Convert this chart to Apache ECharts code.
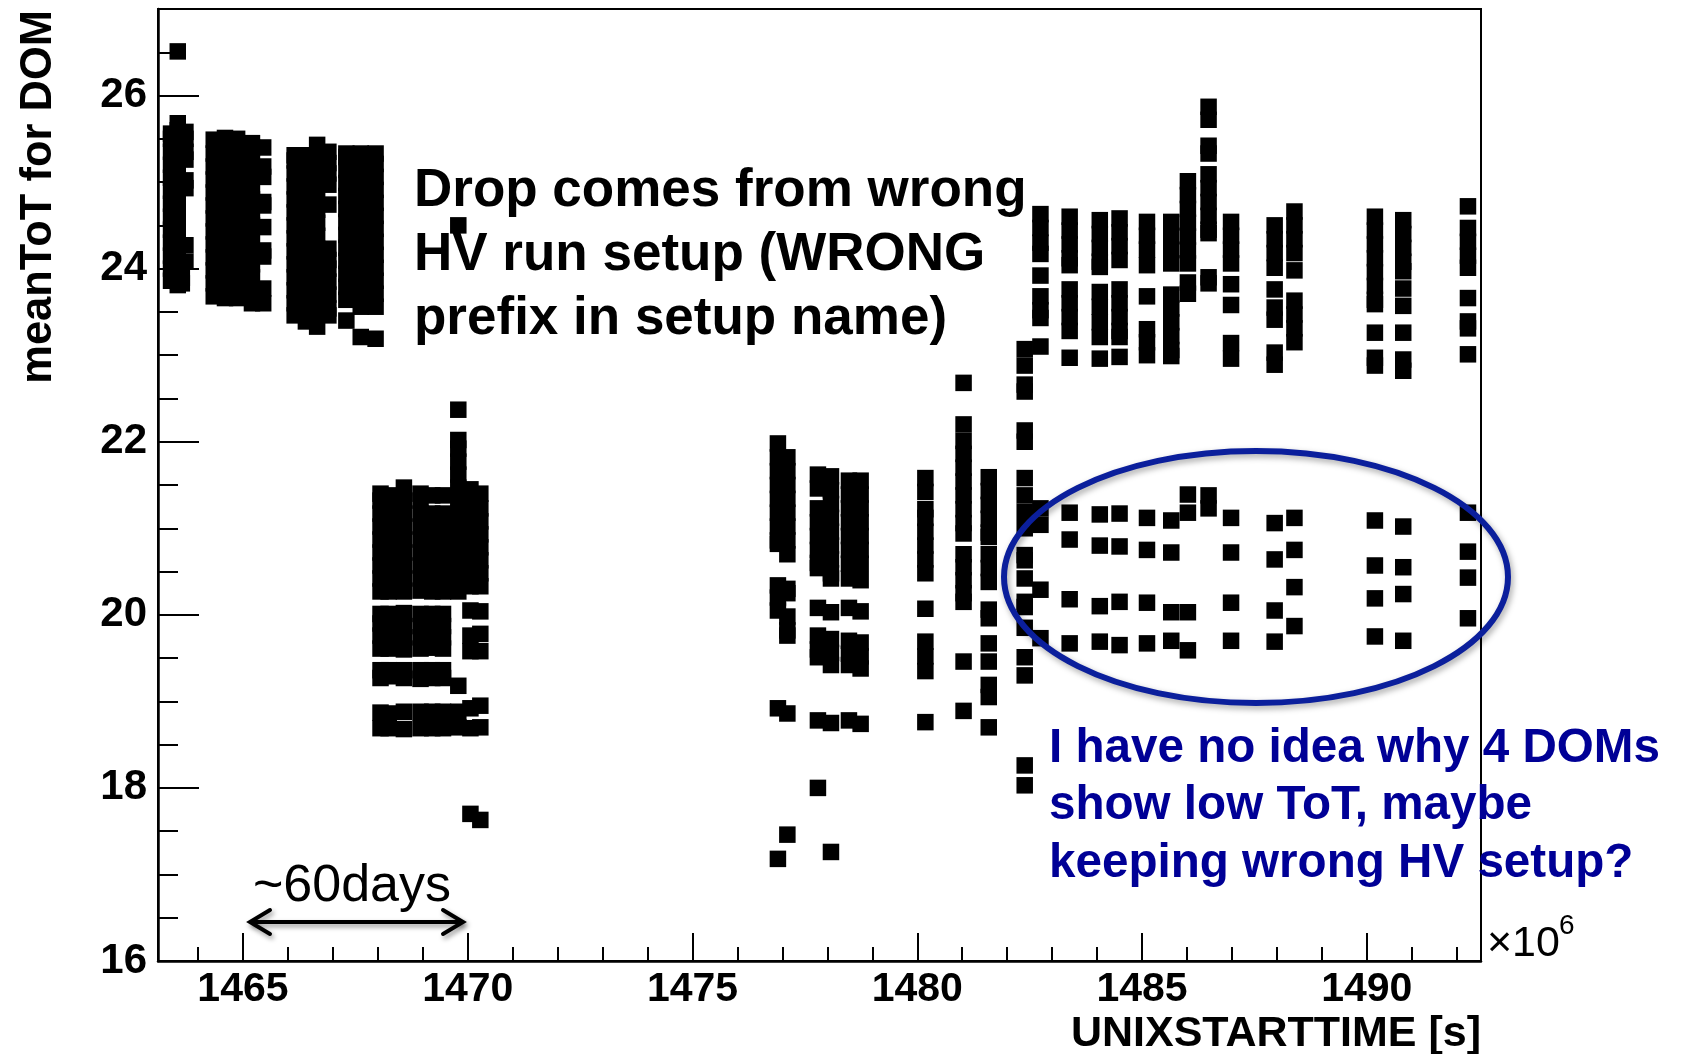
<!DOCTYPE html>
<html>
<head>
<meta charset="utf-8">
<script src="https://cdn.jsdelivr.net/npm/echarts@6/dist/echarts.min.js"></script>
<style>
  html, body { margin: 0; padding: 0; background: #fff; }
  #chart { width: 1683px; height: 1054px; }
</style>
</head>
<body>
<div id="chart"></div>
<script>
// Run start times in units of 1e6 s (UNIXSTARTTIME), one entry per run.
// Each run holds the meanToT value of every DOM read out in that run.

// Runs before the HV change
const earlyRunStart = [1463.40, 1463.55, 1463.64, 1463.72,
  1464.35, 1464.60, 1464.87, 1465.20, 1465.45,
  1466.15, 1466.40, 1466.65, 1466.90,
  1467.30, 1467.62, 1467.95];
const earlyRunToT = [
  [23.86, 24.0, 24.15, 24.3, 24.45, 24.6, 24.75, 24.9, 25.05, 25.2, 25.35, 25.5, 25.56],
  [23.81, 23.96, 24.11, 24.26, 24.41, 24.56, 24.71, 24.86, 25.01, 25.16, 25.31, 25.46, 25.6, 25.68, 26.51],
  [23.83, 23.89],
  [24.08, 24.27, 24.93, 25.02, 25.26, 25.35, 25.5, 25.58],
  [23.68, 23.83, 23.98, 24.13, 24.28, 24.43, 24.58, 24.73, 24.88, 25.03, 25.18, 25.33, 25.49],
  [23.66, 23.81, 23.96, 24.11, 24.26, 24.41, 24.56, 24.71, 24.86, 25.01, 25.16, 25.31, 25.46, 25.51],
  [23.66, 23.8, 23.95, 24.1, 24.25, 24.4, 24.55, 24.7, 24.85, 25.0, 25.15, 25.3, 25.45, 25.5],
  [23.6, 23.75, 23.9, 24.05, 24.2, 24.35, 24.5, 24.65, 24.8, 24.95, 25.1, 25.25, 25.4, 25.45],
  [23.6, 23.77, 24.14, 24.21, 24.48, 24.73, 24.77, 25.06, 25.18, 25.4],
  [23.46, 23.6, 23.75, 23.9, 24.05, 24.2, 24.35, 24.5, 24.65, 24.8, 24.95, 25.1, 25.25, 25.31],
  [23.39, 23.54, 23.69, 23.84, 23.99, 24.14, 24.29, 24.44, 24.59, 24.74, 24.89, 25.04, 25.19, 25.31],
  [23.33, 23.48, 23.63, 23.78, 23.93, 24.08, 24.23, 24.38, 24.53, 24.68, 24.83, 24.98, 25.13, 25.28, 25.43],
  [23.46, 23.54, 23.7, 23.85, 24.0, 24.1, 24.23, 24.74, 24.97, 25.1, 25.22, 25.35],
  [23.40, 23.64, 23.79, 23.94, 24.09, 24.24, 24.39, 24.54, 24.69, 24.84, 24.99, 25.14, 25.29, 25.33],
  [23.21, 23.56, 23.71, 23.86, 24.01, 24.16, 24.31, 24.46, 24.61, 24.76, 24.91, 25.06, 25.21, 25.33],
  [23.19, 23.56, 23.71, 23.86, 24.01, 24.16, 24.31, 24.46, 24.61, 24.76, 24.91, 25.06, 25.21, 25.33]
];

// Runs taken with the wrong HV setup
const wrongHvRunStart = [1468.06, 1468.24, 1468.58, 1468.95, 1469.21, 1469.45, 1469.79, 1470.06, 1470.28];
const wrongHvRunToT = [
  [18.69, 18.87, 19.27, 19.36, 19.61, 19.76, 19.9, 20.01, 20.27, 20.42, 20.57, 20.72, 20.87, 21.02, 21.17, 21.32, 21.4],
  [18.69, 18.86, 19.29, 19.36, 19.61, 19.75, 19.88, 20.01, 20.27, 20.42, 20.57, 20.72, 20.87, 21.02, 21.17, 21.32, 21.38],
  [18.68, 18.88, 19.27, 19.36, 19.6, 19.74, 19.87, 20.02, 20.27, 20.42, 20.57, 20.72, 20.87, 21.02, 21.17, 21.32, 21.47],
  [18.69, 18.88, 19.26, 19.36, 19.61, 19.74, 19.87, 20.01, 20.28, 20.42, 20.57, 20.72, 20.87, 21.02, 21.17, 21.32, 21.4],
  [18.69, 18.88, 19.27, 19.36, 19.62, 19.74, 19.87, 20.01, 20.27, 20.42, 20.57, 20.72, 20.87, 21.02, 21.17, 21.38],
  [18.69, 18.88, 19.27, 19.36, 19.61, 19.74, 19.87, 20.01, 20.27, 20.42, 20.57, 20.72, 20.87, 21.02, 21.17, 21.38],
  [18.7, 18.88, 19.18, 20.27, 20.42, 20.57, 20.72, 20.87, 21.02, 21.17, 21.32, 21.47, 21.62, 21.77, 21.92, 22.02, 22.37, 24.5],
  [17.7, 18.69, 18.92, 19.58, 19.76, 20.05, 20.33, 20.48, 20.63, 20.78, 20.93, 21.08, 21.23, 21.38, 21.45],
  [17.63, 18.7, 18.95, 19.58, 19.78, 20.04, 20.33, 20.48, 20.63, 20.78, 20.93, 21.08, 21.23, 21.4]
];

// Runs in the middle period
const midRunStart = [1476.90, 1477.11, 1477.79, 1478.08, 1478.48, 1478.74, 1480.18, 1481.03, 1481.59];
const midRunToT = [
  [17.18, 18.92, 20.05, 20.2, 20.34, 20.82, 20.86, 21.02, 21.18, 21.34, 21.5, 21.66, 21.82, 21.98],
  [17.46, 18.86, 19.76, 19.82, 19.98, 20.25, 20.3, 20.7, 20.86, 21.02, 21.18, 21.34, 21.5, 21.66, 21.82],
  [18.0, 18.78, 19.51, 19.6, 19.76, 20.08, 20.54, 20.6, 20.75, 20.91, 21.07, 21.23, 21.46, 21.62],
  [17.26, 18.75, 19.42, 19.56, 19.72, 20.03, 20.42, 20.48, 20.64, 20.8, 20.96, 21.12, 21.28, 21.44, 21.6],
  [18.78, 19.42, 19.55, 19.7, 20.08, 20.42, 20.59, 20.75, 20.91, 21.07, 21.23, 21.39, 21.55],
  [18.74, 19.38, 19.52, 19.68, 20.04, 20.4, 20.59, 20.75, 20.91, 21.07, 21.23, 21.39, 21.55],
  [18.76, 19.35, 19.52, 19.69, 20.07, 20.48, 20.64, 20.8, 20.96, 21.12, 21.22, 21.42, 21.58],
  [18.89, 19.46, 20.15, 20.25, 20.4, 20.55, 20.7, 20.94, 21.06, 21.22, 21.38, 21.54, 21.7, 21.86, 22.01, 22.2, 22.68],
  [18.7, 19.05, 19.19, 19.46, 19.67, 19.96, 20.06, 20.38, 20.54, 20.7, 20.9, 20.95, 21.11, 21.27, 21.43, 21.59]
];

// Runs in the late period
const lateRunStart = [1482.39, 1482.74, 1483.39, 1484.06, 1484.50, 1485.11, 1485.65, 1486.02,
  1486.48, 1486.98, 1487.95, 1488.39, 1490.18, 1490.81, 1492.25];
const lateRunToT = [
  [18.03, 18.26, 19.3, 19.51, 19.85, 20.09, 20.15, 20.42, 20.63, 20.69, 21.0, 21.19, 21.38, 21.58, 22.0, 22.13, 22.58, 22.66, 22.88, 23.07],
  [19.73, 20.29, 21.04, 21.23, 23.1, 23.43, 23.52, 23.68, 23.92, 24.17, 24.3, 24.47, 24.63],
  [19.67, 20.18, 20.87, 21.18, 22.97, 23.28, 23.44, 23.6, 23.76, 24.04, 24.12, 24.28, 24.44, 24.6],
  [19.69, 20.10, 20.80, 21.16, 22.96, 23.21, 23.38, 23.56, 23.73, 24.02, 24.08, 24.24, 24.4, 24.56],
  [19.65, 20.15, 20.79, 21.17, 22.98, 23.21, 23.28, 23.44, 23.6, 23.76, 24.1, 24.26, 24.42, 24.58],
  [19.67, 20.14, 20.75, 21.12, 23.0, 23.15, 23.3, 23.68, 24.04, 24.22, 24.38, 24.54],
  [19.70, 20.03, 20.72, 21.09, 22.99, 23.06, 23.22, 23.38, 23.54, 23.7, 24.06, 24.22, 24.38, 24.54],
  [19.59, 20.03, 21.18, 21.39, 23.71, 23.84, 24.06, 24.21, 24.37, 24.53, 24.69, 24.85, 25.01],
  [21.23, 21.38, 23.83, 23.9, 24.41, 24.45, 24.61, 24.77, 24.93, 25.09, 25.33, 25.42, 25.72, 25.87],
  [19.70, 20.14, 20.72, 21.12, 22.96, 23.14, 23.58, 23.82, 24.06, 24.22, 24.38, 24.54],
  [19.69, 20.05, 20.64, 21.06, 22.89, 23.03, 23.41, 23.55, 23.76, 24.01, 24.18, 24.34, 24.5],
  [19.87, 20.32, 20.75, 21.12, 23.15, 23.31, 23.47, 23.63, 23.98, 24.18, 24.34, 24.5, 24.66],
  [19.75, 20.19, 20.57, 21.09, 22.88, 22.97, 23.26, 23.59, 23.64, 23.8, 23.96, 24.12, 24.28, 24.44, 24.6],
  [19.70, 20.24, 20.55, 21.02, 22.82, 22.95, 23.26, 23.57, 23.77, 23.97, 24.08, 24.24, 24.4, 24.56],
  [19.96, 20.43, 20.73, 21.18, 23.01, 23.31, 23.39, 23.66, 24.01, 24.15, 24.31, 24.47, 24.72]
];

// Axis ranges and labelled ticks
const xRange = [1463.11, 1492.54];
const yRange = [16, 27];
const xTickLabels = [1465, 1470, 1475, 1480, 1485, 1490];
const yTickLabels = [16, 18, 20, 22, 24, 26];

// Minor ticks: every 1 on x, every 0.5 on y
const xMinorTicks = [];
for (let v = Math.ceil(xRange[0]); v <= xRange[1]; v += 1) xMinorTicks.push(v);
const yMinorTicks = [];
for (let v = yRange[0]; v < yRange[1]; v += 0.5) yMinorTicks.push(v);

function toPoints(times, tots) {
  const pts = [];
  times.forEach((t, i) => tots[i].forEach(v => pts.push([t, v])));
  return pts;
}

const FONT = "'Liberation Sans', Arial, Helvetica, sans-serif";
const chart = echarts.init(document.getElementById('chart'));

const marker = { type: 'scatter', symbol: 'rect', symbolSize: 16.5,
  itemStyle: { color: '#000', opacity: 1, borderWidth: 0 },
  emphasis: { disabled: true }, silent: true, animation: false };

chart.setOption({
  animation: false,
  backgroundColor: '#fff',
  grid: { left: 158, top: 9, width: 1323, height: 952, show: true,
    borderColor: '#000', borderWidth: 2, backgroundColor: 'transparent' },
  xAxis: [
    { type: 'value', min: xRange[0], max: xRange[1], position: 'bottom',
      axisLine: { show: true, onZero: false, lineStyle: { color: '#000', width: 2.5 } },
      splitLine: { show: false },
      axisTick: { show: true, inside: true, length: 28, customValues: xTickLabels,
        lineStyle: { color: '#000', width: 2 } },
      axisLabel: { show: true, customValues: xTickLabels, margin: 8, color: '#000',
        formatter: v => String(v),
        fontFamily: FONT, fontWeight: 'bold', fontSize: 41 } },
    { type: 'value', min: xRange[0], max: xRange[1], position: 'bottom',
      axisLine: { show: false }, splitLine: { show: false }, axisLabel: { show: false },
      axisTick: { show: true, inside: true, length: 14, customValues: xMinorTicks,
        lineStyle: { color: '#000', width: 2 } } }
  ],
  yAxis: [
    { type: 'value', min: yRange[0], max: yRange[1], position: 'left',
      axisLine: { show: true, onZero: false, lineStyle: { color: '#000', width: 2.5 } },
      splitLine: { show: false },
      axisTick: { show: true, inside: true, length: 41, customValues: yTickLabels,
        lineStyle: { color: '#000', width: 2 } },
      axisLabel: { show: true, customValues: yTickLabels, margin: 11, color: '#000',
        formatter: v => String(v),
        fontFamily: FONT, fontWeight: 'bold', fontSize: 42 } },
    { type: 'value', min: yRange[0], max: yRange[1], position: 'left',
      axisLine: { show: false }, splitLine: { show: false }, axisLabel: { show: false },
      axisTick: { show: true, inside: true, length: 20, customValues: yMinorTicks,
        lineStyle: { color: '#000', width: 2 } } }
  ],
  series: [
    Object.assign({ name: 'early', data: toPoints(earlyRunStart, earlyRunToT) }, marker),
    Object.assign({ name: 'wrong HV', data: toPoints(wrongHvRunStart, wrongHvRunToT) }, marker),
    Object.assign({ name: 'mid', data: toPoints(midRunStart, midRunToT) }, marker),
    Object.assign({ name: 'late', data: toPoints(lateRunStart, lateRunToT) }, marker)
  ],
  graphic: [
    // axis titles
    { type: 'text', x: 39, y: 10, rotation: Math.PI / 2, z: 10,
      style: { text: 'meanToT for DOM', font: "bold 43.5px " + FONT, fill: '#000',
        align: 'right', verticalAlign: 'middle' } },
    { type: 'text', x: 1481, y: 1034, z: 10,
      style: { text: 'UNIXSTARTTIME [s]', font: "bold 43px " + FONT, fill: '#000',
        align: 'right', verticalAlign: 'middle' } },
    { type: 'text', x: 1487, y: 944, z: 10,
      style: { text: '\u00d710', font: "43px " + FONT, fill: '#000',
        align: 'left', verticalAlign: 'middle' } },
    { type: 'text', x: 1559, y: 926, z: 10,
      style: { text: '6', font: "28px " + FONT, fill: '#000',
        align: 'left', verticalAlign: 'middle' } },
    // notes
    { type: 'text', x: 414, y: 159, z: 20,
      style: { text: 'Drop comes from wrong\nHV run setup (WRONG\nprefix in setup name)',
        font: "bold 53px " + FONT, lineHeight: 64, fill: '#000',
        align: 'left', verticalAlign: 'top' } },
    { type: 'text', x: 1049, y: 720, z: 20,
      style: { text: 'I have no idea why 4 DOMs\nshow low ToT, maybe\nkeeping wrong HV setup?',
        font: "bold 47.6px " + FONT, lineHeight: 57.5, fill: '#000096',
        align: 'left', verticalAlign: 'top' } },
    // ellipse around the four low DOMs
    { type: 'ellipse', z: 15, shape: { cx: 1256, cy: 577, rx: 252, ry: 126 },
      style: { fill: 'none', stroke: '#0b1f9c', lineWidth: 6,
        shadowBlur: 6, shadowColor: 'rgba(0,0,0,0.35)', shadowOffsetX: 2, shadowOffsetY: 3 } },
    // ~60 days arrow
    { type: 'group', z: 15, children: [
      { type: 'line', shape: { x1: 251, y1: 922, x2: 462, y2: 922 },
        style: { stroke: '#000', lineWidth: 4, shadowBlur: 5, shadowColor: 'rgba(0,0,0,0.4)',
          shadowOffsetX: 2, shadowOffsetY: 3 } },
      { type: 'polyline', shape: { points: [[270, 910], [250, 922], [270, 934]] },
        style: { stroke: '#000', fill: 'none', lineWidth: 4, lineJoin: 'miter', lineCap: 'round',
          shadowBlur: 5, shadowColor: 'rgba(0,0,0,0.4)', shadowOffsetX: 2, shadowOffsetY: 3 } },
      { type: 'polyline', shape: { points: [[443, 910], [463, 922], [443, 934]] },
        style: { stroke: '#000', fill: 'none', lineWidth: 4, lineJoin: 'miter', lineCap: 'round',
          shadowBlur: 5, shadowColor: 'rgba(0,0,0,0.4)', shadowOffsetX: 2, shadowOffsetY: 3 } }
    ] },
    { type: 'text', x: 352, y: 887, z: 20,
      style: { text: '~60days', font: "52px " + FONT, fill: '#000',
        align: 'center', verticalAlign: 'middle' } }
  ]
});
</script>
</body>
</html>
